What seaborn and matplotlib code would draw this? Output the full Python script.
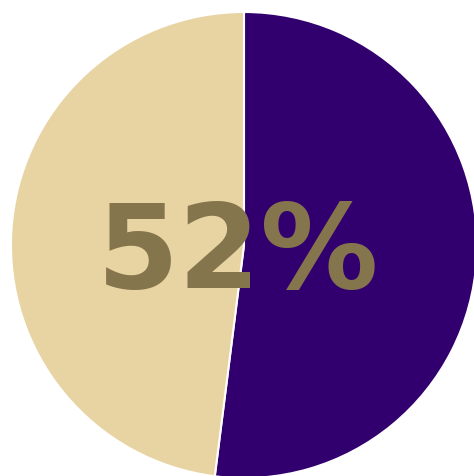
import matplotlib
matplotlib.use("Agg")
import matplotlib.pyplot as plt
import seaborn as sns

categories = ["Yes", "No"]
values = [52, 48]
colors = ["#32006e", "#e8d3a2"]
label_text = "52%"

sns.set_style("white")
plt.rcParams['font.family'] = ['DejaVu Sans']

fig = plt.figure(figsize=(4.74, 4.76), dpi=100)
ax = fig.add_axes([0, 0, 1, 1])
ax.pie(values, colors=colors, startangle=90, counterclock=False,
       radius=1.0, wedgeprops=dict(edgecolor="white", linewidth=1.5))
ax.set_aspect('auto')
ax.set_xlim(-1.047, 0.987)
ax.set_ylim(-0.991, 1.0515)
ax.axis('off')
ax.text(-0.025, -0.045, label_text, ha="center", va="center", fontsize=85,
        fontweight="bold", color="#85754d")
fig.savefig("out.png", dpi=100)
